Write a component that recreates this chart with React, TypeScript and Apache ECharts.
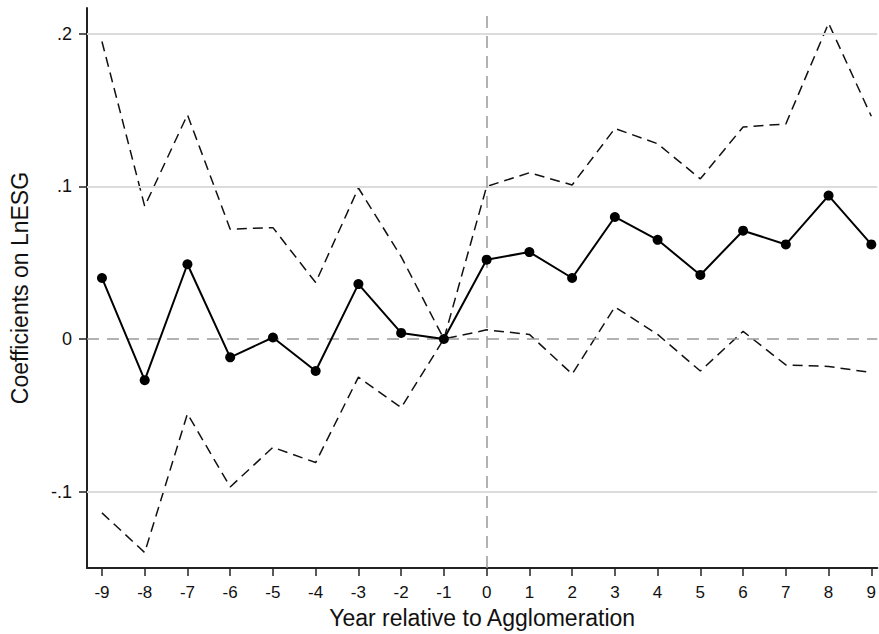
import React, { useEffect, useRef } from "react";
import * as echarts from "echarts";

const years = [-9, -8, -7, -6, -5, -4, -3, -2, -1, 0, 1, 2, 3, 4, 5, 6, 7, 8, 9];
const coef = [0.040, -0.027, 0.049, -0.012, 0.001, -0.021, 0.036, 0.004, 0.0, 0.052, 0.057, 0.040, 0.080, 0.065, 0.042, 0.071, 0.062, 0.094, 0.062];
const upper = [0.195, 0.087, 0.147, 0.072, 0.073, 0.037, 0.099, 0.054, 0.0, 0.100, 0.109, 0.101, 0.138, 0.128, 0.105, 0.139, 0.141, 0.207, 0.146];
const lower = [-0.114, -0.140, -0.049, -0.097, -0.071, -0.081, -0.025, -0.045, 0.0, 0.006, 0.003, -0.023, 0.021, 0.003, -0.021, 0.005, -0.017, -0.018, -0.022];
const yTicks = [-0.1, 0, 0.1, 0.2];
const yTickLabels = ["-.1", "0", ".1", ".2"];
const gridValues = [-0.1, 0.1, 0.2];

const FONT = "Liberation Sans, Arial, sans-serif";

export default function App() {
  const ref = useRef<HTMLDivElement>(null);
  useEffect(() => {
    if (!ref.current) return;
    const chart = echarts.init(ref.current, undefined, { renderer: "svg" });
    const pair = (arr: number[]) => years.map((y, i) => [y, arr[i]]);
    chart.setOption({
      animation: false,
      backgroundColor: "#fff",
      grid: { left: 81, top: 8, right: 0, bottom: 61, containLabel: false },
      xAxis: {
        type: "value",
        min: -9.35,
        max: 9.14,
        name: "Year relative to Agglomeration",
        nameLocation: "middle",
        nameGap: 34,
        nameTextStyle: { fontFamily: FONT, fontSize: 23, color: "#111" },
        axisLine: { show: true, onZero: false, lineStyle: { color: "#222", width: 2 } },
        axisTick: { show: true, length: 8, customValues: years, lineStyle: { color: "#222", width: 1.5 } },
        axisLabel: {
          customValues: years,
          fontFamily: FONT,
          fontSize: 17,
          color: "#111",
          margin: 16,
          formatter: (v: number) => String(v),
        },
        splitLine: { show: false },
      },
      yAxis: {
        type: "value",
        min: -0.1502,
        max: 0.217,
        name: "Coefficients on LnESG",
        nameLocation: "middle",
        nameGap: 56,
        nameTextStyle: { fontFamily: FONT, fontSize: 23, color: "#111" },
        axisLine: { show: true, onZero: false, lineStyle: { color: "#222", width: 2 } },
        axisTick: { show: true, length: 8, customValues: yTicks, lineStyle: { color: "#222", width: 1.5 } },
        axisLabel: {
          customValues: yTicks,
          fontFamily: FONT,
          fontSize: 18,
          color: "#111",
          margin: 15,
          formatter: (v: number) => {
            const i = yTicks.findIndex((t) => Math.abs(t - v) < 1e-9);
            return i >= 0 ? yTickLabels[i] : "";
          },
        },
        splitLine: { show: false },
      },
      series: [
        {
          type: "line",
          name: "grid",
          data: [],
          silent: true,
          markLine: {
            symbol: "none",
            silent: true,
            label: { show: false },
            data: [
              ...gridValues.map((v) => ({ yAxis: v, lineStyle: { color: "#dcdcdc", width: 2, type: "solid" } })),
              { yAxis: 0, lineStyle: { color: "#999", width: 1.5, type: [12, 8] } },
              { xAxis: 0, lineStyle: { color: "#999", width: 1.5, type: [12, 8] } },
            ],
          },
        },
        {
          type: "line",
          name: "upper",
          data: pair(upper),
          symbol: "none",
          lineStyle: { color: "#111", width: 1.5, type: [10, 6] },
        },
        {
          type: "line",
          name: "lower",
          data: pair(lower),
          symbol: "none",
          lineStyle: { color: "#111", width: 1.5, type: [10, 6] },
        },
        {
          type: "line",
          name: "coef",
          data: pair(coef),
          symbol: "circle",
          symbolSize: 10,
          itemStyle: { color: "#000" },
          lineStyle: { color: "#000", width: 2 },
          z: 5,
        },
      ],
    });
    return () => chart.dispose();
  }, []);
  return <div ref={ref} style={{ width: 879, height: 634, position: "absolute", left: 0, top: 0 }} />;
}
